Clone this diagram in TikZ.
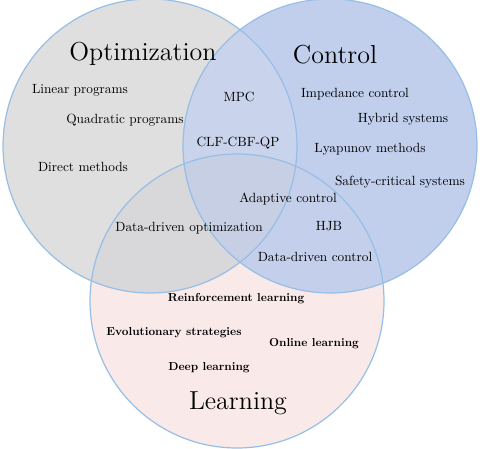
\documentclass[tikz,border=0pt]{standalone}
\usepackage{graphicx}
\definecolor{optc}{RGB}{223,223,223}
\definecolor{ctrlc}{RGB}{193,207,237}
\definecolor{learnc}{RGB}{249,233,233}
\definecolor{ocC}{RGB}{201,211,235}
\definecolor{olC}{RGB}{216,216,219}
\definecolor{clC}{RGB}{196,208,235}
\definecolor{oclC}{RGB}{199,207,229}
\definecolor{edgec}{RGB}{150,190,230}
\newcommand{\itm}[1]{\scalebox{0.667}{\fontsize{10}{12}\selectfont #1}}
\newcommand{\litm}[1]{\scalebox{0.58}{\fontsize{10}{12}\selectfont\bfseries #1}}
\tikzset{
  title/.style={font=\fontsize{13}{15}\selectfont, inner sep=0pt},
  item/.style={inner sep=0pt},
  rim/.style={draw=edgec, line width=0.6pt}
}
\begin{document}
\begin{tikzpicture}[x=0.5pt,y=-0.5pt]
\useasboundingbox (0,0) rectangle (480,448);
\def\R{147}
\coordinate (O) at (150,146);
\coordinate (C) at (330,146);
\coordinate (L) at (237,301);
\fill[learnc] (L) circle[radius=\R];
\fill[optc] (O) circle[radius=\R];
\fill[ctrlc] (C) circle[radius=\R];
\begin{scope}
  \clip (O) circle[radius=\R];
  \fill[ocC] (C) circle[radius=\R];
  \fill[olC] (L) circle[radius=\R];
  \clip (C) circle[radius=\R];
  \fill[oclC] (L) circle[radius=\R];
\end{scope}
\begin{scope}
  \clip (C) circle[radius=\R];
  \clip (L) circle[radius=\R];
  \fill[clC] (L) circle[radius=\R];
  \clip (O) circle[radius=\R];
  \fill[oclC] (L) circle[radius=\R];
\end{scope}
\draw[rim] (L) circle[radius=\R];
\draw[rim] (O) circle[radius=\R];
\draw[rim] (C) circle[radius=\R];

\node[title] (topt) at (143,54) {Optimization};
\node[title] (tctrl) at (335,55) {Control};
\node[title] (tlearn) at (238,403) {Learning};

\node[item] (lp) at (80,90) {\itm{Linear programs}};
\node[item] (qp) at (125,120) {\itm{Quadratic programs}};
\node[item] (dm) at (83,167) {\itm{Direct methods}};
\node[item] (mpc) at (239,97) {\itm{MPC}};
\node[item] (clf) at (238,143) {\itm{CLF-CBF-QP}};
\node[item] (imp) at (355,94) {\itm{Impedance control}};
\node[item] (hyb) at (403,119) {\itm{Hybrid systems}};
\node[item] (lya) at (370,149) {\itm{Lyapunov methods}};
\node[item] (saf) at (400,182) {\itm{Safety-critical systems}};
\node[item] (ada) at (288,199) {\itm{Adaptive control}};
\node[item] (hjb) at (329,226) {\itm{HJB}};
\node[item] (ddo) at (189,228) {\itm{Data-driven optimization}};
\node[item] (ddc) at (315,257) {\itm{Data-driven control}};

\node[item] (rl) at (236,299) {\litm{Reinforcement learning}};
\node[item] (es) at (174,333) {\litm{Evolutionary strategies}};
\node[item] (ol) at (314,344) {\litm{Online learning}};
\node[item] (dl) at (209,368) {\litm{Deep learning}};
\end{tikzpicture}
\end{document}
